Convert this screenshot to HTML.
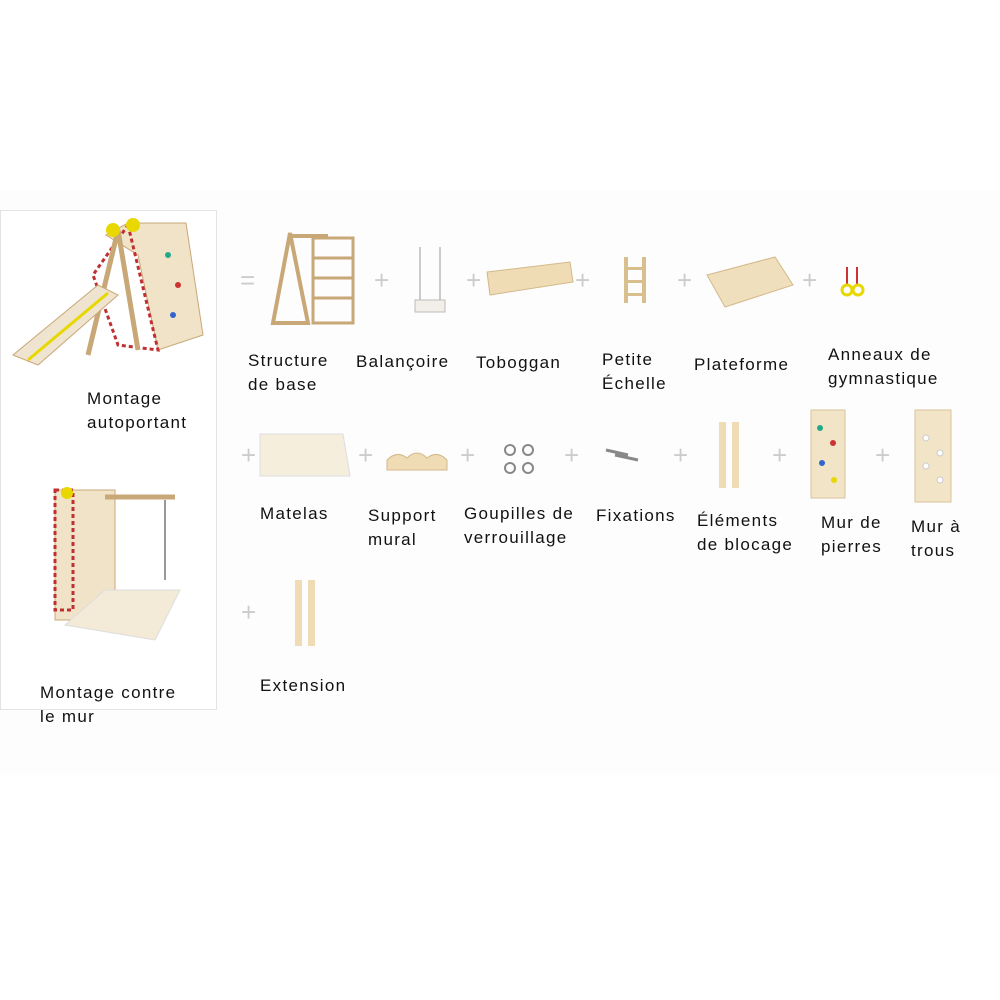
<!DOCTYPE html>
<html><head><meta charset="utf-8"><style>
body{margin:0;width:1000px;height:1000px;background:#fff;position:relative;overflow:hidden;font-family:"Liberation Sans","DejaVu Sans",sans-serif;}
.bg{position:absolute;left:0;top:190px;width:1000px;height:585px;background:#fdfdfd;}
.panel{position:absolute;left:0;top:210px;width:215px;height:498px;border:1px solid #e4e4e4;background:#fff;}
.t{position:absolute;font-size:17px;line-height:24px;color:#111;white-space:nowrap;letter-spacing:1.3px;}
.p{position:absolute;font-size:26px;color:#ccc;line-height:26px;}
.a{position:absolute;}
</style></head><body>
<div class="bg"></div>
<div class="panel"></div>
<svg class="a" style="left:8px;top:215px" width="205" height="160">
<polygon points="98,20 120,8 178,8 195,120 150,135 130,40" fill="#f0e3c8" stroke="#c9a878"/>
<polygon points="120,10 150,135 110,130 85,60" fill="none" stroke="#c03030" stroke-width="3" stroke-dasharray="4,3"/>
<line x1="110" y1="15" x2="80" y2="140" stroke="#c9a878" stroke-width="5"/>
<line x1="110" y1="15" x2="130" y2="135" stroke="#c9a878" stroke-width="5"/>
<polygon points="5,140 30,150 110,80 90,70" fill="#efe4cf" stroke="#c9a878"/>
<line x1="20" y1="145" x2="100" y2="78" stroke="#e6d800" stroke-width="3"/>
<circle cx="105" cy="15" r="7" fill="#e8d800"/><circle cx="125" cy="10" r="7" fill="#e8d800"/>
<circle cx="160" cy="40" r="3" fill="#2a8"/><circle cx="170" cy="70" r="3" fill="#c33"/><circle cx="165" cy="100" r="3" fill="#36c"/>
</svg>
<svg class="a" style="left:45px;top:485px" width="140" height="160">
<rect x="10" y="5" width="60" height="130" fill="#f0e3c8" stroke="#c9a878"/>
<rect x="10" y="5" width="18" height="120" fill="none" stroke="#c03030" stroke-width="3" stroke-dasharray="4,3"/>
<line x1="60" y1="12" x2="130" y2="12" stroke="#c9a878" stroke-width="5"/>
<line x1="120" y1="15" x2="120" y2="95" stroke="#999" stroke-width="2"/>
<polygon points="20,140 60,105 135,105 110,155" fill="#f3ead8" stroke="#ddd"/>
<circle cx="22" cy="8" r="6" fill="#e8d800"/>
</svg>
<div class="t" style="left:87px;top:387px">Montage<br>autoportant</div>
<div class="t" style="left:40px;top:681px">Montage contre<br>le mur</div>
<svg class="a" style="left:268px;top:228px" width="95" height="100">
<polygon points="5,95 22,5 40,95" fill="none" stroke="#c9a878" stroke-width="4"/>
<line x1="22" y1="8" x2="60" y2="8" stroke="#c9a878" stroke-width="4"/>
<rect x="45" y="10" width="40" height="85" fill="none" stroke="#c9a878" stroke-width="3"/>
<line x1="45" y1="30" x2="85" y2="30" stroke="#c9a878" stroke-width="3"/><line x1="45" y1="50" x2="85" y2="50" stroke="#c9a878" stroke-width="3"/><line x1="45" y1="70" x2="85" y2="70" stroke="#c9a878" stroke-width="3"/>
</svg>
<svg class="a" style="left:410px;top:245px" width="40" height="75"><line x1="10" y1="2" x2="10" y2="55" stroke="#999"/><line x1="30" y1="2" x2="30" y2="55" stroke="#999"/><rect x="5" y="55" width="30" height="12" fill="#f2efe8" stroke="#bbb"/></svg>
<svg class="a" style="left:485px;top:260px" width="90" height="40"><polygon points="2,12 85,2 88,22 5,35" fill="#efdcb5" stroke="#d3b88a"/></svg>
<svg class="a" style="left:620px;top:255px" width="30" height="50"><rect x="4" y="2" width="4" height="46" fill="#d9bf8e"/><rect x="22" y="2" width="4" height="46" fill="#d9bf8e"/><rect x="6" y="12" width="18" height="3" fill="#d9bf8e"/><rect x="6" y="25" width="18" height="3" fill="#d9bf8e"/><rect x="6" y="38" width="18" height="3" fill="#d9bf8e"/></svg>
<svg class="a" style="left:705px;top:255px" width="90" height="55"><polygon points="2,20 70,2 88,30 20,52" fill="#f0dfbd" stroke="#d3b88a"/></svg>
<svg class="a" style="left:837px;top:265px" width="30" height="35"><line x1="10" y1="2" x2="10" y2="20" stroke="#c33" stroke-width="2"/><line x1="20" y1="2" x2="20" y2="20" stroke="#c33" stroke-width="2"/><circle cx="10" cy="25" r="5" fill="none" stroke="#e8d800" stroke-width="3"/><circle cx="21" cy="25" r="5" fill="none" stroke="#e8d800" stroke-width="3"/></svg>
<svg class="a" style="left:258px;top:430px" width="95" height="50"><polygon points="2,4 85,4 92,46 2,46" fill="#f5eedd" stroke="#ddd"/></svg>
<svg class="a" style="left:385px;top:448px" width="65" height="25"><path d="M2,22 L2,12 Q12,2 22,10 Q32,0 42,10 Q52,2 62,12 L62,22 Z" fill="#efdcb5" stroke="#d3b88a"/></svg>
<svg class="a" style="left:500px;top:440px" width="40" height="40"><g fill="none" stroke="#888" stroke-width="2"><circle cx="10" cy="10" r="5"/><circle cx="28" cy="10" r="5"/><circle cx="10" cy="28" r="5"/><circle cx="28" cy="28" r="5"/></g></svg>
<svg class="a" style="left:603px;top:445px" width="40" height="20"><line x1="3" y1="5" x2="25" y2="10" stroke="#888" stroke-width="3"/><line x1="12" y1="10" x2="35" y2="15" stroke="#888" stroke-width="3"/></svg>
<svg class="a" style="left:715px;top:420px" width="30" height="70"><rect x="4" y="2" width="7" height="66" fill="#efdcb5"/><rect x="17" y="2" width="7" height="66" fill="#efdcb5"/></svg>
<svg class="a" style="left:808px;top:408px" width="40" height="92"><rect x="3" y="2" width="34" height="88" fill="#f2e4c6" stroke="#d9c49c"/><circle cx="12" cy="20" r="3" fill="#2a8"/><circle cx="25" cy="35" r="3" fill="#c33"/><circle cx="14" cy="55" r="3" fill="#36c"/><circle cx="26" cy="72" r="3" fill="#e8d800"/></svg>
<svg class="a" style="left:912px;top:408px" width="42" height="96"><rect x="3" y="2" width="36" height="92" fill="#f2e4c6" stroke="#d9c49c"/><g fill="#fff" stroke="#ccc"><circle cx="14" cy="30" r="3"/><circle cx="28" cy="45" r="3"/><circle cx="14" cy="58" r="3"/><circle cx="28" cy="72" r="3"/></g></svg>
<svg class="a" style="left:290px;top:578px" width="30" height="70"><rect x="5" y="2" width="7" height="66" fill="#efdcb5"/><rect x="18" y="2" width="7" height="66" fill="#efdcb5"/></svg>
<div class="p" style="left:240px;top:267px">=</div>
<div class="p" style="left:374px;top:267px">+</div>
<div class="p" style="left:466px;top:267px">+</div>
<div class="p" style="left:575px;top:267px">+</div>
<div class="p" style="left:677px;top:267px">+</div>
<div class="p" style="left:802px;top:267px">+</div>
<div class="p" style="left:241px;top:442px">+</div>
<div class="p" style="left:358px;top:442px">+</div>
<div class="p" style="left:460px;top:442px">+</div>
<div class="p" style="left:564px;top:442px">+</div>
<div class="p" style="left:673px;top:442px">+</div>
<div class="p" style="left:772px;top:442px">+</div>
<div class="p" style="left:875px;top:442px">+</div>
<div class="p" style="left:241px;top:599px">+</div>
<div class="t" style="left:248px;top:349px">Structure<br>de base</div>
<div class="t" style="left:356px;top:350px">Balançoire</div>
<div class="t" style="left:476px;top:351px">Toboggan</div>
<div class="t" style="left:602px;top:348px">Petite<br>Échelle</div>
<div class="t" style="left:694px;top:353px">Plateforme</div>
<div class="t" style="left:828px;top:343px">Anneaux de<br>gymnastique</div>
<div class="t" style="left:260px;top:502px">Matelas</div>
<div class="t" style="left:368px;top:504px">Support<br>mural</div>
<div class="t" style="left:464px;top:502px">Goupilles de<br>verrouillage</div>
<div class="t" style="left:596px;top:504px">Fixations</div>
<div class="t" style="left:697px;top:509px">Éléments<br>de blocage</div>
<div class="t" style="left:821px;top:511px">Mur de<br>pierres</div>
<div class="t" style="left:911px;top:515px">Mur à<br>trous</div>
<div class="t" style="left:260px;top:674px">Extension</div>
</body></html>
